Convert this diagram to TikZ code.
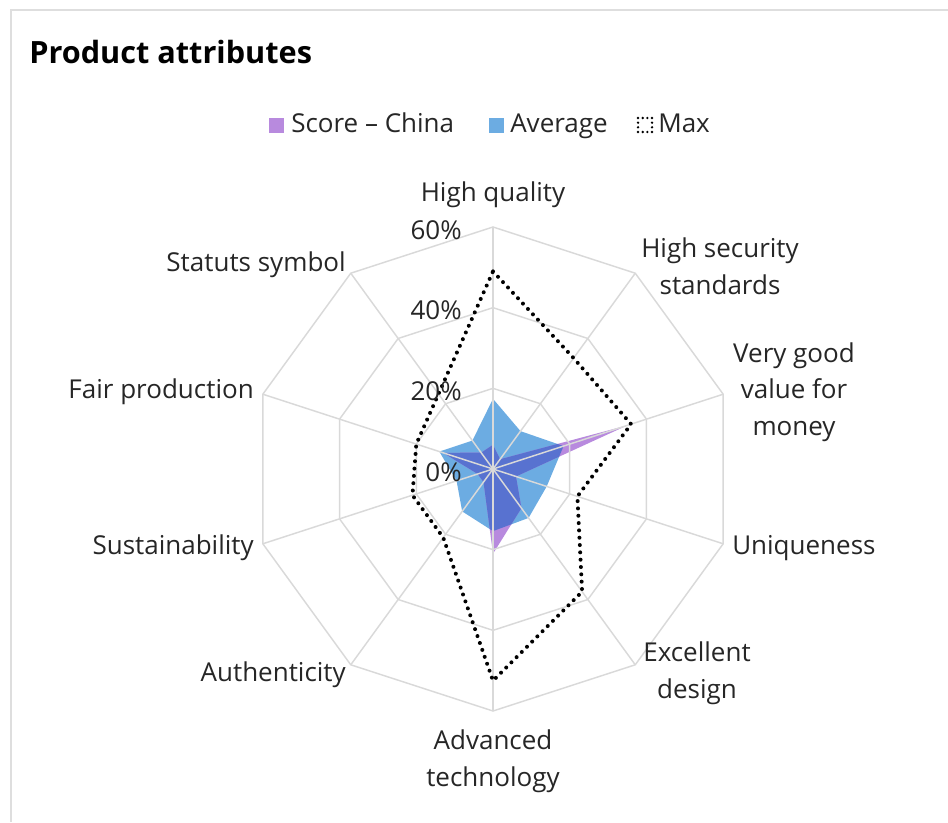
\documentclass[tikz,border=0pt]{standalone}
\usepackage{fontspec}
\setmainfont{Open Sans}
\definecolor{gridgray}{RGB}{217,217,217}
\definecolor{framegray}{RGB}{222,222,222}
\definecolor{chinapurple}{RGB}{184,138,222}
\definecolor{avgblue}{RGB}{108,172,226}
\definecolor{overlapblue}{RGB}{88,114,208}

\begin{document}
\begin{tikzpicture}[x=0.75pt, y=0.75pt,
    lbl/.style={font=\fontsize{19.5}{27.5}\selectfont, text=black!85, inner sep=0pt, align=center},
    tick/.style={lbl, anchor=east},
    grid/.style={draw=gridgray, line width=1.1pt},
    maxline/.style={line width=3pt, dash pattern=on 0pt off 5.5pt, line cap=round}
]
    \useasboundingbox (0,0) rectangle (948,822);

    % Rahmen
    \draw[framegray, line width=1.5pt] (11,0) -- (11,812) -- (948,812);

    % Titel und Legende
    \node[anchor=west, inner sep=0pt, font=\fontsize{23}{28}\selectfont\bfseries] (title) at (29,770) {Product attributes};
    \fill[chinapurple] (269,689) rectangle (284,704);
    \node[lbl, anchor=base west] (legchina) at (291,689) {Score – China};
    \fill[avgblue] (489,689) rectangle (504,704);
    \node[lbl, anchor=base west] (legavg) at (510,689) {Average};
    \draw[line width=2pt, dash pattern=on 0pt off 3.5pt, line cap=round] (638,690) rectangle (652,704);
    \node[lbl, anchor=base west] (legmax) at (658,689) {Max};

    \begin{scope}[shift={(493,353)}]
        % Datenpunkte (Prozent)
        \foreach \v [count=\k from 0] in {17.4,11.6,18.4,14,15,15.4,13,9.5,14,8.7}
            \coordinate (avg\k) at ({90-36*\k}:{\v*4.033});
        \foreach \v [count=\k from 0] in {6,3,35,6,12,21,4,4,13,5}
            \coordinate (chn\k) at ({90-36*\k}:{\v*4.033});
        \foreach \v [count=\k from 0] in {49,34,36,22,37.6,52.5,21,21,20,23}
            \coordinate (max\k) at ({90-36*\k}:{\v*4.033});

        % Flaechen
        \fill[avgblue] (avg0) \foreach \k in {1,...,9} {-- (avg\k)} -- cycle;
        \fill[chinapurple] (chn0) \foreach \k in {1,...,9} {-- (chn\k)} -- cycle;
        \begin{scope}
            \clip (avg0) \foreach \k in {1,...,9} {-- (avg\k)} -- cycle;
            \fill[overlapblue] (chn0) \foreach \k in {1,...,9} {-- (chn\k)} -- cycle;
        \end{scope}

        % Netz
        \foreach \r in {1,2,3}
            \draw[grid] (90:{\r*80.67}) \foreach \k in {1,...,9} {-- ({90-36*\k}:{\r*80.67})} -- cycle;
        \foreach \k in {0,...,9}
            \draw[grid] (0,0) -- ({90-36*\k}:242);

        % Max
        \draw[maxline] (max0) \foreach \k in {1,...,9} {-- (max\k)} -- cycle;
    \end{scope}

    % Skala
    \foreach \p [count=\i from 0] in {0\%,20\%,40\%,60\%}
        \node[tick] (tick\i) at (462,{350+\i*80.67}) {\p};

    % Achsen
    \node[lbl] (quality) at (493,627) {High quality};
    \node[lbl] (security) at (720,556) {High security\\standards};
    \node[lbl] (value) at (794,430) {Very good\\value for\\money};
    \node[lbl, anchor=west] (unique) at (732,274) {Uniqueness};
    \node[lbl] (design) at (697,149) {Excellent\\design};
    \node[lbl] (tech) at (493,61) {Advanced\\technology};
    \node[lbl, anchor=east] (authentic) at (346,147) {Authenticity};
    \node[lbl, anchor=east] (sustain) at (254,274) {Sustainability};
    \node[lbl, anchor=east] (fair) at (254,430) {Fair production};
    \node[lbl, anchor=east] (status) at (346,557) {Statuts symbol};
\end{tikzpicture}
\end{document}
